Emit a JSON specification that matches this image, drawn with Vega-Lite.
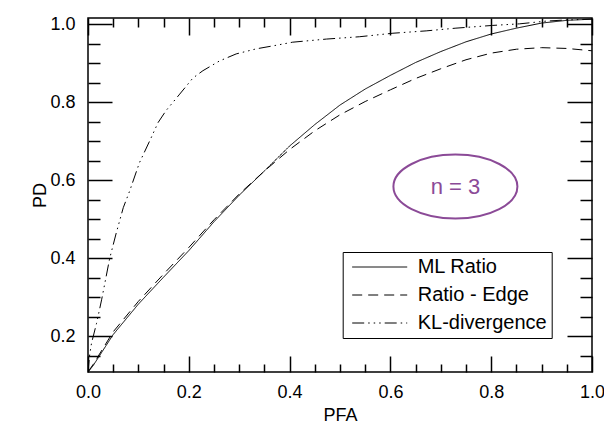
{
  "$schema": "https://vega.github.io/schema/vega-lite/v6.json",
  "width": 504,
  "height": 354,
  "autosize": "none",
  "padding": {"left": 88, "top": 18, "right": 12, "bottom": 52},
  "background": "white",
  "config": {
    "view": {"stroke": "black", "strokeWidth": 1.5},
    "axis": {
      "domain": false,
      "grid": false,
      "tickColor": "black",
      "tickWidth": 1.5,
      "labelFont": "Liberation Sans",
      "labelFontSize": 18,
      "labelColor": "black",
      "titleFont": "Liberation Sans",
      "titleFontSize": 18,
      "titleFontWeight": "normal",
      "titleColor": "black",
      "labelFlush": false,
      "labelOverlap": false
    },
    "legend": {
      "orient": "none",
      "legendX": 254.7,
      "legendY": 234,
      "strokeColor": "black",
      "fillColor": "white",
      "padding": 5,
      "labelFont": "Liberation Sans",
      "labelFontSize": 20,
      "labelColor": "black",
      "rowPadding": 8,
      "symbolType": "M -1 0 H 9",
      "symbolSize": 121,
      "symbolStrokeColor": "black",
      "symbolStrokeWidth": 1,
      "labelOffset": 50
    }
  },
  "datasets": {
    "curves": [
      {"series": "ML Ratio", "pfa": 0.0, "pd": 0.109},
      {"series": "ML Ratio", "pfa": 0.01, "pd": 0.125},
      {"series": "ML Ratio", "pfa": 0.05, "pd": 0.205},
      {"series": "ML Ratio", "pfa": 0.1, "pd": 0.283},
      {"series": "ML Ratio", "pfa": 0.15, "pd": 0.352},
      {"series": "ML Ratio", "pfa": 0.2, "pd": 0.42},
      {"series": "ML Ratio", "pfa": 0.25, "pd": 0.494},
      {"series": "ML Ratio", "pfa": 0.3, "pd": 0.562},
      {"series": "ML Ratio", "pfa": 0.35, "pd": 0.624},
      {"series": "ML Ratio", "pfa": 0.4, "pd": 0.688},
      {"series": "ML Ratio", "pfa": 0.45, "pd": 0.743},
      {"series": "ML Ratio", "pfa": 0.5, "pd": 0.793},
      {"series": "ML Ratio", "pfa": 0.55, "pd": 0.834},
      {"series": "ML Ratio", "pfa": 0.6, "pd": 0.869},
      {"series": "ML Ratio", "pfa": 0.65, "pd": 0.902},
      {"series": "ML Ratio", "pfa": 0.7, "pd": 0.93},
      {"series": "ML Ratio", "pfa": 0.75, "pd": 0.955},
      {"series": "ML Ratio", "pfa": 0.8, "pd": 0.975},
      {"series": "ML Ratio", "pfa": 0.85, "pd": 0.99},
      {"series": "ML Ratio", "pfa": 0.9, "pd": 1.003},
      {"series": "ML Ratio", "pfa": 0.95, "pd": 1.01},
      {"series": "ML Ratio", "pfa": 1.0, "pd": 1.013},
      {"series": "Ratio - Edge", "pfa": 0.0, "pd": 0.109},
      {"series": "Ratio - Edge", "pfa": 0.01, "pd": 0.128},
      {"series": "Ratio - Edge", "pfa": 0.05, "pd": 0.212},
      {"series": "Ratio - Edge", "pfa": 0.1, "pd": 0.29},
      {"series": "Ratio - Edge", "pfa": 0.15, "pd": 0.36},
      {"series": "Ratio - Edge", "pfa": 0.2, "pd": 0.428},
      {"series": "Ratio - Edge", "pfa": 0.25, "pd": 0.499},
      {"series": "Ratio - Edge", "pfa": 0.3, "pd": 0.565},
      {"series": "Ratio - Edge", "pfa": 0.35, "pd": 0.624},
      {"series": "Ratio - Edge", "pfa": 0.4, "pd": 0.679},
      {"series": "Ratio - Edge", "pfa": 0.45, "pd": 0.727},
      {"series": "Ratio - Edge", "pfa": 0.5, "pd": 0.768},
      {"series": "Ratio - Edge", "pfa": 0.55, "pd": 0.802},
      {"series": "Ratio - Edge", "pfa": 0.6, "pd": 0.832},
      {"series": "Ratio - Edge", "pfa": 0.65, "pd": 0.861},
      {"series": "Ratio - Edge", "pfa": 0.7, "pd": 0.886},
      {"series": "Ratio - Edge", "pfa": 0.75, "pd": 0.909},
      {"series": "Ratio - Edge", "pfa": 0.8, "pd": 0.926},
      {"series": "Ratio - Edge", "pfa": 0.85, "pd": 0.936},
      {"series": "Ratio - Edge", "pfa": 0.9, "pd": 0.94},
      {"series": "Ratio - Edge", "pfa": 0.95, "pd": 0.938},
      {"series": "Ratio - Edge", "pfa": 1.0, "pd": 0.932},
      {"series": "KL-divergence", "pfa": 0.0, "pd": 0.109},
      {"series": "KL-divergence", "pfa": 0.003, "pd": 0.15},
      {"series": "KL-divergence", "pfa": 0.007, "pd": 0.183},
      {"series": "KL-divergence", "pfa": 0.017, "pd": 0.234},
      {"series": "KL-divergence", "pfa": 0.027, "pd": 0.294},
      {"series": "KL-divergence", "pfa": 0.043, "pd": 0.4},
      {"series": "KL-divergence", "pfa": 0.056, "pd": 0.465},
      {"series": "KL-divergence", "pfa": 0.07, "pd": 0.53},
      {"series": "KL-divergence", "pfa": 0.083, "pd": 0.574},
      {"series": "KL-divergence", "pfa": 0.102, "pd": 0.645},
      {"series": "KL-divergence", "pfa": 0.122, "pd": 0.7},
      {"series": "KL-divergence", "pfa": 0.139, "pd": 0.748},
      {"series": "KL-divergence", "pfa": 0.155, "pd": 0.779},
      {"series": "KL-divergence", "pfa": 0.182, "pd": 0.821},
      {"series": "KL-divergence", "pfa": 0.208, "pd": 0.862},
      {"series": "KL-divergence", "pfa": 0.228, "pd": 0.881},
      {"series": "KL-divergence", "pfa": 0.261, "pd": 0.906},
      {"series": "KL-divergence", "pfa": 0.294, "pd": 0.924},
      {"series": "KL-divergence", "pfa": 0.334, "pd": 0.937},
      {"series": "KL-divergence", "pfa": 0.373, "pd": 0.946},
      {"series": "KL-divergence", "pfa": 0.406, "pd": 0.954},
      {"series": "KL-divergence", "pfa": 0.473, "pd": 0.962},
      {"series": "KL-divergence", "pfa": 0.539, "pd": 0.968},
      {"series": "KL-divergence", "pfa": 0.605, "pd": 0.977},
      {"series": "KL-divergence", "pfa": 0.671, "pd": 0.983},
      {"series": "KL-divergence", "pfa": 0.73, "pd": 0.99},
      {"series": "KL-divergence", "pfa": 0.803, "pd": 0.997},
      {"series": "KL-divergence", "pfa": 0.856, "pd": 1.001},
      {"series": "KL-divergence", "pfa": 0.909, "pd": 1.008},
      {"series": "KL-divergence", "pfa": 0.948, "pd": 1.011},
      {"series": "KL-divergence", "pfa": 1.0, "pd": 1.013}
    ],
    "note": [{"pfa": 0.729, "pd": 0.584, "label": "n = 3"}]
  },
  "resolve": {"axis": {"x": "independent", "y": "independent"}},
  "layer": [
    {
      "data": {"name": "curves"},
      "mark": {"type": "line", "color": "black", "strokeWidth": 1, "clip": true},
      "encoding": {
        "x": {"field": "pfa", "type": "quantitative", "scale": {"domain": [0, 1], "nice": false, "zero": false},
          "axis": {"orient": "bottom", "title": "PFA", "values": [0, 0.2, 0.4, 0.6, 0.8, 1.0], "format": ".1f", "tickSize": -16, "labelPadding": 27, "titlePadding": 5}},
        "y": {"field": "pd", "type": "quantitative", "scale": {"domain": [0.109, 1.016], "nice": false, "zero": false},
          "axis": {"orient": "left", "title": "PD", "values": [0.2, 0.4, 0.6, 0.8, 1.0], "format": ".1f", "tickSize": -24, "labelPadding": 37, "titlePadding": 0}},
        "strokeDash": {"field": "series", "type": "nominal",
          "scale": {"domain": ["ML Ratio", "Ratio - Edge", "KL-divergence"], "range": [[1, 0], [10, 6], [12, 4, 1.5, 4, 1.5, 4, 1.5, 4]]},
          "legend": {"title": null}}
      }
    },
    {
      "data": {"name": "note"},
      "mark": {"type": "point", "shape": "M -1 0 A 1 0.516 0 1 0 1 0 A 1 0.516 0 1 0 -1 0 Z", "size": 15376, "filled": false, "stroke": "#8b4a97", "strokeWidth": 2, "opacity": 1},
      "encoding": {
        "x": {"field": "pfa", "type": "quantitative", "scale": {"domain": [0, 1], "nice": false, "zero": false},
          "axis": {"orient": "bottom", "title": null, "labels": false, "values": [0.05, 0.1, 0.15, 0.25, 0.3, 0.35, 0.45, 0.5, 0.55, 0.65, 0.7, 0.75, 0.85, 0.9, 0.95], "tickSize": -8}},
        "y": {"field": "pd", "type": "quantitative", "scale": {"domain": [0.109, 1.016], "nice": false, "zero": false},
          "axis": {"orient": "left", "title": null, "labels": false, "values": [0.15, 0.25, 0.3, 0.35, 0.45, 0.5, 0.55, 0.65, 0.7, 0.75, 0.85, 0.9, 0.95], "tickSize": -12}}
      }
    },
    {
      "data": {"name": "note"},
      "mark": {"type": "text", "font": "Liberation Sans", "fontSize": 22, "color": "#8b4a97", "align": "center", "baseline": "middle"},
      "encoding": {
        "x": {"field": "pfa", "type": "quantitative", "scale": {"domain": [0, 1], "nice": false, "zero": false},
          "axis": {"orient": "top", "title": null, "labels": false, "values": [0, 0.2, 0.4, 0.6, 0.8, 1.0], "tickSize": -17}},
        "y": {"field": "pd", "type": "quantitative", "scale": {"domain": [0.109, 1.016], "nice": false, "zero": false},
          "axis": {"orient": "right", "title": null, "labels": false, "values": [0.2, 0.4, 0.6, 0.8, 1.0], "tickSize": -25}},
        "text": {"field": "label"}
      }
    },
    {
      "data": {"name": "note"},
      "mark": {"type": "point", "opacity": 0},
      "encoding": {
        "x": {"field": "pfa", "type": "quantitative", "scale": {"domain": [0, 1], "nice": false, "zero": false},
          "axis": {"orient": "top", "title": null, "labels": false, "values": [0.05, 0.1, 0.15, 0.25, 0.3, 0.35, 0.45, 0.5, 0.55, 0.65, 0.7, 0.75, 0.85, 0.9, 0.95], "tickSize": -9}},
        "y": {"field": "pd", "type": "quantitative", "scale": {"domain": [0.109, 1.016], "nice": false, "zero": false},
          "axis": {"orient": "right", "title": null, "labels": false, "values": [0.15, 0.25, 0.3, 0.35, 0.45, 0.5, 0.55, 0.65, 0.7, 0.75, 0.85, 0.9, 0.95], "tickSize": -12}}
      }
    }
  ]
}
